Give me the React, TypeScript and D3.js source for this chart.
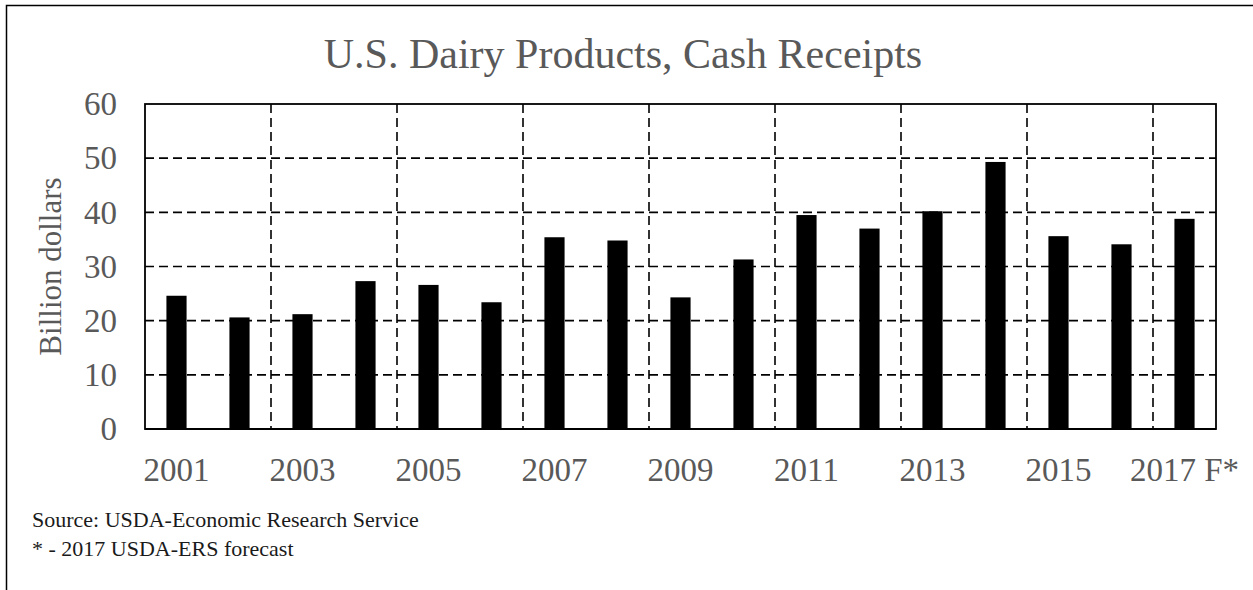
import React from "react";
import * as d3 from "d3";

const years = ["2001","2002","2003","2004","2005","2006","2007","2008","2009","2010","2011","2012","2013","2014","2015","2016","2017"];
const receipts = [24.6,20.6,21.2,27.3,26.6,23.4,35.4,34.8,24.3,31.3,39.5,37.0,40.2,49.3,35.6,34.1,38.8];
const xLabels: Record<string,string> = {"2001":"2001","2003":"2003","2005":"2005","2007":"2007","2009":"2009","2011":"2011","2013":"2013","2015":"2015","2017":"2017 F*"};
const yTicks = [0,10,20,30,40,50,60];
const title = "U.S. Dairy Products, Cash Receipts";
const yTitle = "Billion dollars";
const notes = ["Source: USDA-Economic Research Service", "* - 2017 USDA-ERS forecast"];

const W = 1253, H = 590;
const L = 145, R = 1216, T = 104, B = 429;
const FONT = "'Liberation Serif', 'Times New Roman', serif";
const GRAY = "#595959";

export default function App() {
  const cat = d3.scaleBand<string>().domain(years).range([L, R]).padding(0);
  const bar = d3.scaleBand<string>().domain(years).range([L, R]).paddingInner(0.68).paddingOuter(0.34);
  const y = d3.scaleLinear().domain([0, 60]).range([B, T]);

  const vLines = years.filter((_, i) => i > 0 && i % 2 === 0).map(yr => cat(yr)!);

  return (
    <svg width={W} height={H} style={{ position: "absolute", left: 0, top: 0, background: "#fff" }}>
      <rect x={6.5} y={5.5} width={1400} height={800} fill="white" stroke="black" strokeWidth={1.5} />
      <text x={623} y={68} textAnchor="middle" fontFamily={FONT} fontSize={42} fill={GRAY}>{title}</text>

      {/* horizontal grid */}
      {yTicks.filter(t => t > 0 && t < 60).map(t => (
        <line key={"h"+t} x1={L} x2={R} y1={y(t)} y2={y(t)} stroke="black" strokeWidth={1.6} strokeDasharray="9,5" />
      ))}
      {vLines.map((xv, i) => (
        <line key={"v"+i} x1={xv} x2={xv} y1={T} y2={B} stroke="black" strokeWidth={1.6} strokeDasharray="9,5" />
      ))}

      {/* bars */}
      {years.map((yr, i) => (
        <rect key={yr} x={bar(yr)} y={y(receipts[i])} width={bar.bandwidth()} height={y(0) - y(receipts[i])} fill="black" />
      ))}

      {/* plot border */}
      <rect x={L} y={T} width={R - L} height={B - T} fill="none" stroke="black" strokeWidth={1.8} />
      <line x1={L} x2={R} y1={B} y2={B} stroke="black" strokeWidth={2.2} />

      {/* y ticks */}
      {yTicks.map(t => (
        <text key={"y"+t} x={117} y={y(t)} dy="0.34em" textAnchor="end" fontFamily={FONT} fontSize={33} fill={GRAY}>{t}</text>
      ))}
      <text transform={`translate(61,${(T + B) / 2}) rotate(-90)`} textAnchor="middle" fontFamily={FONT} fontSize={31} fill={GRAY}>{yTitle}</text>

      {/* x labels */}
      {years.filter(yr => xLabels[yr]).map(yr => (
        <text key={"x"+yr} x={cat(yr)! + cat.bandwidth() / 2} y={481} textAnchor="middle" fontFamily={FONT} fontSize={33} fill={GRAY}>{xLabels[yr]}</text>
      ))}

      {notes.map((n, i) => (
        <text key={"n"+i} x={32} y={527 + i * 29} fontFamily={FONT} fontSize={22} fill="#1a1a1a">{n}</text>
      ))}
    </svg>
  );
}
